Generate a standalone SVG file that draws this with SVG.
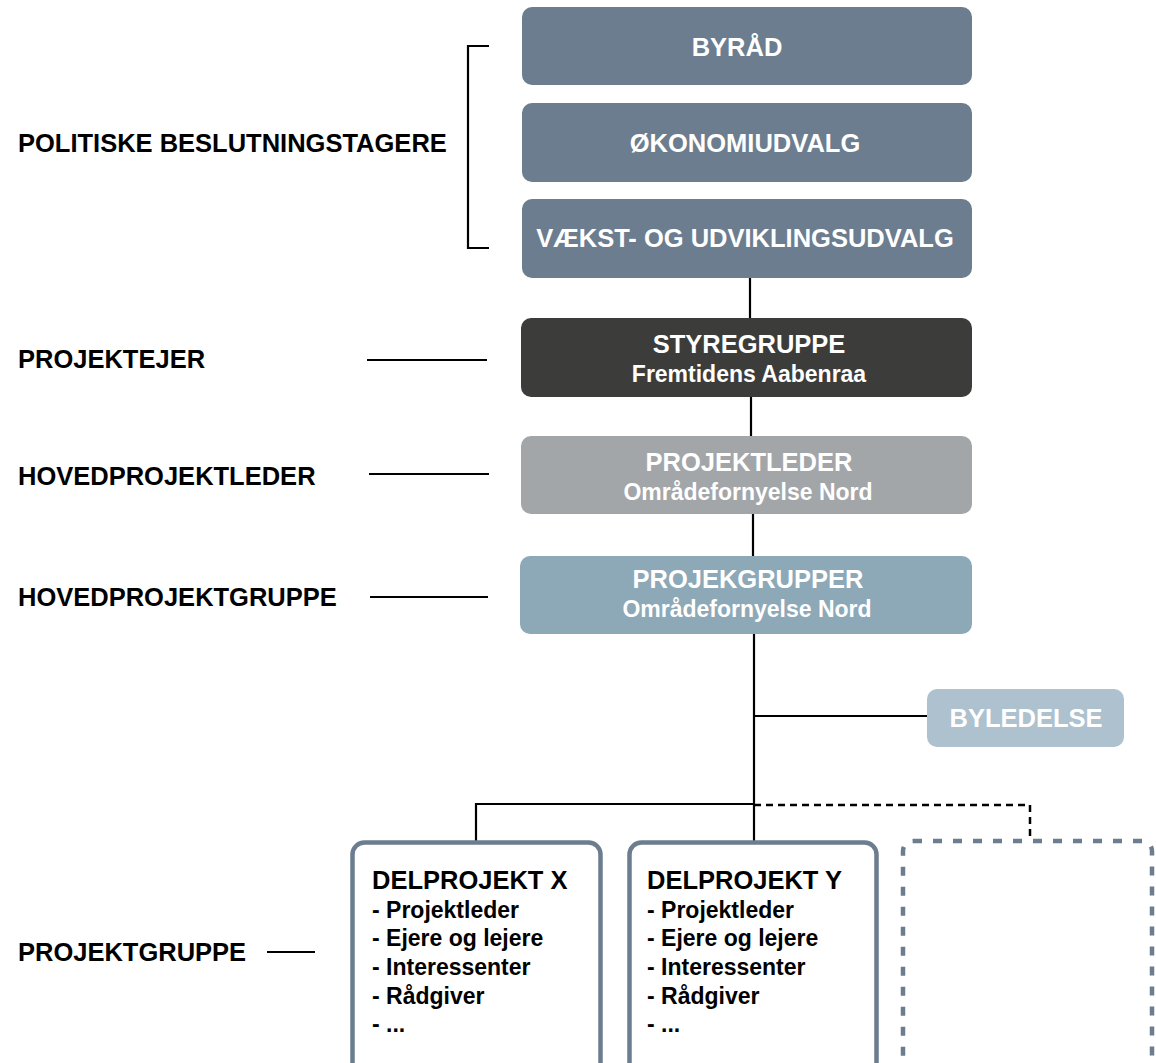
<svg xmlns="http://www.w3.org/2000/svg" width="1156" height="1063" viewBox="0 0 1156 1063">
<style>
.lbl{font-family:"Liberation Sans",Arial,sans-serif;font-weight:bold;font-size:25.5px;fill:#000}
.t{font-family:"Liberation Sans",Arial,sans-serif;font-weight:bold;font-size:25.5px;fill:#fff;text-anchor:middle}
.s{font-family:"Liberation Sans",Arial,sans-serif;font-weight:bold;font-size:23px;fill:#fff;text-anchor:middle}
.h{font-family:"Liberation Sans",Arial,sans-serif;font-weight:bold;font-size:25.5px;fill:#000}
.i{font-family:"Liberation Sans",Arial,sans-serif;font-weight:bold;font-size:23px;fill:#000}
.ln{stroke:#000;stroke-width:2.2;fill:none}
.dl{stroke:#000;stroke-width:2.5;fill:none;stroke-dasharray:7 5}
.pol{fill:#6b7d8f}
.sub{fill:#fff;stroke:#6b7d8f;stroke-width:4.5}
</style>
<rect width="1156" height="1063" fill="#fff"/>
<g id="connectors">
<path class="ln" d="M489,46 H468 V248 H489"/>
<line class="ln" x1="750" y1="278" x2="750" y2="318"/>
<line class="ln" x1="751" y1="397" x2="751" y2="436"/>
<line class="ln" x1="753" y1="514" x2="753" y2="556"/>
<line class="ln" x1="754" y1="634" x2="754" y2="841"/>
<line class="ln" x1="754" y1="716" x2="927" y2="716"/>
<path class="ln" d="M476,841 V804 H754"/>
<path class="dl" d="M754,805 H1030 V840"/>
<line class="ln" x1="367" y1="360" x2="487" y2="360"/>
<line class="ln" x1="369" y1="474" x2="489" y2="474"/>
<line class="ln" x1="370" y1="597" x2="488" y2="597"/>
<line class="ln" x1="267" y1="952" x2="315" y2="952"/>
</g>
<g id="labels">
<text class="lbl" x="18" y="152">POLITISKE BESLUTNINGSTAGERE</text>
<text class="lbl" x="18" y="368">PROJEKTEJER</text>
<text class="lbl" x="18" y="485">HOVEDPROJEKTLEDER</text>
<text class="lbl" x="18" y="606">HOVEDPROJEKTGRUPPE</text>
<text class="lbl" x="18" y="961">PROJEKTGRUPPE</text>
</g>
<g id="byraad">
<rect class="pol" x="522" y="7" width="450" height="78" rx="10"/>
<text class="t" x="737" y="56">BYRÅD</text>
</g>
<g id="okonomiudvalg">
<rect class="pol" x="522" y="103" width="450" height="79" rx="10"/>
<text class="t" x="745" y="152">ØKONOMIUDVALG</text>
</g>
<g id="vaekst">
<rect class="pol" x="522" y="199" width="450" height="79" rx="10"/>
<text class="t" x="745" y="247">VÆKST- OG UDVIKLINGSUDVALG</text>
</g>
<g id="styregruppe">
<rect x="521" y="318" width="451" height="79" rx="10" fill="#3c3c3b"/>
<text class="t" x="749" y="353">STYREGRUPPE</text>
<text class="s" x="749" y="382">Fremtidens Aabenraa</text>
</g>
<g id="projektleder">
<rect x="521" y="436" width="451" height="78" rx="10" fill="#a3a6a8"/>
<text class="t" x="749" y="471">PROJEKTLEDER</text>
<text class="s" x="748" y="500">Områdefornyelse Nord</text>
</g>
<g id="projekgrupper">
<rect x="520" y="556" width="452" height="78" rx="10" fill="#8da8b7"/>
<text class="t" x="748" y="588">PROJEKGRUPPER</text>
<text class="s" x="747" y="617">Områdefornyelse Nord</text>
</g>
<g id="byledelse">
<rect x="927" y="689" width="197" height="58" rx="10" fill="#adc1ce"/>
<text class="t" x="1026" y="727">BYLEDELSE</text>
</g>
<g id="delprojekt-x">
<rect class="sub" x="352.5" y="842.5" width="248" height="250" rx="12"/>
<text class="h" x="372" y="889">DELPROJEKT X</text>
<text class="i" x="372" y="918">- Projektleder</text>
<text class="i" x="372" y="946">- Ejere og lejere</text>
<text class="i" x="372" y="975">- Interessenter</text>
<text class="i" x="372" y="1004">- Rådgiver</text>
<text class="i" x="372" y="1032">- ...</text>
</g>
<g id="delprojekt-y">
<rect class="sub" x="629.5" y="842.5" width="247" height="250" rx="12"/>
<text class="h" x="647" y="889">DELPROJEKT Y</text>
<text class="i" x="647" y="918">- Projektleder</text>
<text class="i" x="647" y="946">- Ejere og lejere</text>
<text class="i" x="647" y="975">- Interessenter</text>
<text class="i" x="647" y="1004">- Rådgiver</text>
<text class="i" x="647" y="1032">- ...</text>
</g>
<g id="delprojekt-empty">
<rect x="903" y="841" width="249" height="250" rx="10" fill="none" stroke="#6b7d8f" stroke-width="4.5" stroke-dasharray="9 11"/>
</g>
</svg>
